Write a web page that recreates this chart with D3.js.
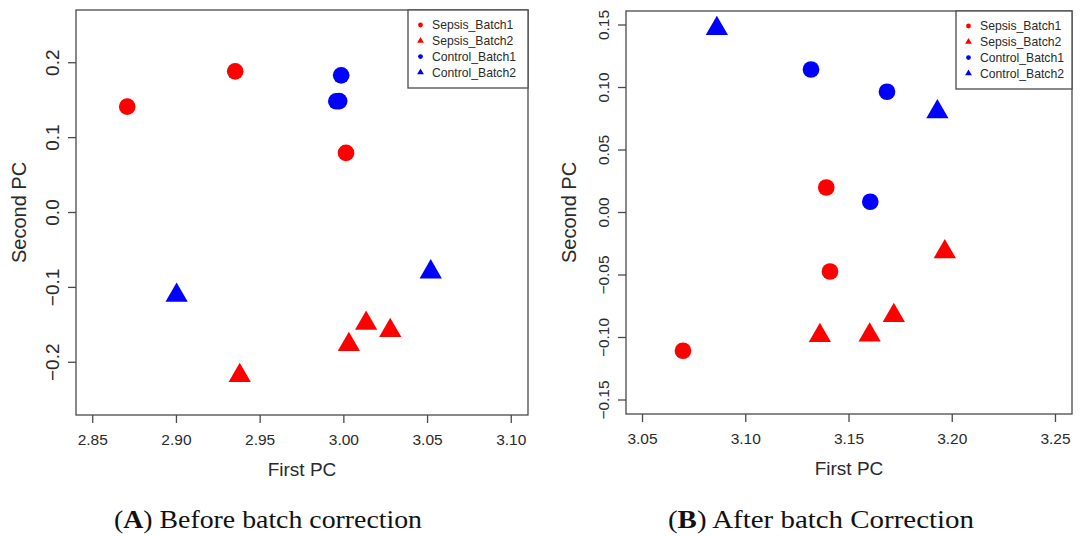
<!DOCTYPE html>
<html>
<head>
<meta charset="utf-8">
<script src="https://cdn.jsdelivr.net/npm/d3@7.9.0/dist/d3.min.js"></script>
<style>
  body { margin: 0; background: #fff; }
  svg { display: block; }
  .tick-label, .axis-title, .legend-text { font-family: "Liberation Sans", Arial, sans-serif; fill: #2a2a2a; }
  .caption { font-family: "Liberation Serif", "Times New Roman", serif; fill: #111; }
</style>
</head>
<body>
<svg id="chart" width="1080" height="536"></svg>
<script>
// groups shared by both panels
const groups = ['Sepsis_Batch1', 'Sepsis_Batch2', 'Control_Batch1', 'Control_Batch2'];
const groupColor = ['red', 'red', 'blue', 'blue'];
const groupShape = ['circle', 'triangle', 'circle', 'triangle'];

// panel A: before batch correction
const beforeX = [2.8706, 2.9351, 3.0013, 3.0030, 3.0133, 3.0277, 2.9378, 2.9984, 2.9955, 2.9972, 2.9001, 3.0519];
const beforeY = [0.1413, 0.1885, 0.0796, -0.1764, -0.1480, -0.1577, -0.2177, 0.1832, 0.1485, 0.1488, -0.1105, -0.0794];
const beforeGroup = [0, 0, 0, 1, 1, 1, 1, 2, 2, 2, 3, 3];
const beforeXTicks = ['2.85', '2.90', '2.95', '3.00', '3.05', '3.10'];
const beforeYTicks = ['0.2', '0.1', '0.0', '-0.1', '-0.2'];

// panel B: after batch correction
const afterX = [3.1390, 3.1408, 3.0696, 3.1964, 3.1717, 3.1359, 3.1600, 3.1316, 3.1684, 3.1603, 3.0860, 3.1928];
const afterY = [0.0200, -0.0472, -0.1106, -0.0314, -0.0824, -0.0984, -0.0980, 0.1144, 0.0966, 0.0086, 0.1472, 0.0806];
const afterGroup = [0, 0, 0, 1, 1, 1, 1, 2, 2, 2, 3, 3];
const afterXTicks = ['3.05', '3.10', '3.15', '3.20', '3.25'];
const afterYTicks = ['0.15', '0.10', '0.05', '0.00', '-0.05', '-0.10', '-0.15'];

const svg = d3.select('#chart');
const lineColor = '#4a4a4a';

// R style: pad the tick range by 4% on each side
function padded(ticks) {
  let lo = d3.min(ticks, (t) => +t);
  let hi = d3.max(ticks, (t) => +t);
  let pad = (hi - lo) * 0.04;
  return [lo - pad, hi + pad];
}

function drawPanel(opts) {
  let { xs, ys, gs, xTicks, yTicks, box, yDomain } = opts;
  let x = d3.scaleLinear().domain(padded(xTicks)).range([box.left, box.right]);
  let y = d3.scaleLinear().domain(yDomain).range([box.bottom, box.top]);
  let g = svg.append('g');

  g.append('rect')
    .attr('x', box.left).attr('y', box.top)
    .attr('width', box.right - box.left).attr('height', box.bottom - box.top)
    .attr('fill', 'none').attr('stroke', lineColor).attr('stroke-width', 1.3);

  // x axis ticks + labels
  let xAxis = g.append('g');
  xTicks.forEach((t) => {
    let px = x(+t);
    xAxis.append('line')
      .attr('x1', px).attr('x2', px).attr('y1', box.bottom).attr('y2', box.bottom + 8)
      .attr('stroke', lineColor).attr('stroke-width', 1.3);
    xAxis.append('text').attr('class', 'tick-label')
      .attr('x', px).attr('y', box.bottom + 30)
      .attr('text-anchor', 'middle').attr('font-size', 15.5)
      .text(t);
  });

  // y axis ticks + labels (rotated like R's default)
  let yAxis = g.append('g');
  yTicks.forEach((t) => {
    let py = y(+t);
    yAxis.append('line')
      .attr('x1', box.left - 8).attr('x2', box.left).attr('y1', py).attr('y2', py)
      .attr('stroke', lineColor).attr('stroke-width', 1.3);
    yAxis.append('text').attr('class', 'tick-label')
      .attr('transform', `translate(${box.left - 17},${py}) rotate(-90)`)
      .attr('text-anchor', 'middle').attr('font-size', opts.yTickSize)
      .text(t.replace('-', '\u2212'));
  });

  g.append('text').attr('class', 'axis-title')
    .attr('x', (box.left + box.right) / 2).attr('y', box.bottom + 61)
    .attr('text-anchor', 'middle').attr('font-size', 19)
    .text('First PC');
  g.append('text').attr('class', 'axis-title')
    .attr('transform', `translate(${box.left - 50.5},${(box.top + box.bottom) / 2}) rotate(-90)`)
    .attr('text-anchor', 'middle').attr('font-size', 20)
    .text('Second PC');

  // points
  let sym = d3.symbol();
  g.append('g').selectAll('path')
    .data(xs.map((v, i) => ({ x: v, y: ys[i], g: gs[i] })))
    .join('path')
    .attr('transform', (d) => `translate(${x(d.x)},${y(d.y)})`)
    .attr('d', (d) => groupShape[d.g] === 'circle'
      ? sym.type(d3.symbolCircle).size(218)()
      : sym.type(d3.symbolTriangle).size(215)())
    .attr('fill', (d) => groupColor[d.g]);

  // legend, topright
  let lw = opts.legendWidth;
  let legend = g.append('g');
  legend.append('rect')
    .attr('x', box.right - lw).attr('y', box.top)
    .attr('width', lw).attr('height', 78)
    .attr('fill', '#fff').attr('stroke', lineColor).attr('stroke-width', 1.3);
  groups.forEach((name, i) => {
    let ly = box.top + 15 + i * 15.8;
    legend.append('path')
      .attr('transform', `translate(${box.right - lw + 12.5},${ly})`)
      .attr('d', groupShape[i] === 'circle'
        ? d3.symbol().type(d3.symbolCircle).size(18)()
        : d3.symbol().type(d3.symbolTriangle).size(20)())
      .attr('fill', groupColor[i]);
    legend.append('text').attr('class', 'legend-text')
      .attr('x', box.right - lw + 24).attr('y', ly + 4.3)
      .attr('font-size', 12.2)
      .text(name);
  });

  // caption under the panel
  let cap = svg.append('text').attr('class', 'caption')
    .attr('x', opts.caption.x).attr('y', 527.5)
    .attr('font-size', 25)
    .attr('textLength', opts.caption.width).attr('lengthAdjust', 'spacingAndGlyphs');
  cap.append('tspan').text('(');
  cap.append('tspan').attr('font-weight', 'bold').text(opts.caption.letter);
  cap.append('tspan').text(') ' + opts.caption.text);
}

drawPanel({
  xs: beforeX, ys: beforeY, gs: beforeGroup,
  xTicks: beforeXTicks, yTicks: beforeYTicks,
  yDomain: [-0.2704, 0.2704],
  yTickSize: 19,
  box: { left: 76, right: 528, top: 10, bottom: 415 },
  legendWidth: 120,
  caption: { x: 114, width: 308, letter: 'A', text: 'Before batch correction' }
});

drawPanel({
  xs: afterX, ys: afterY, gs: afterGroup,
  xTicks: afterXTicks, yTicks: afterYTicks,
  yDomain: [-0.1612, 0.1612],
  yTickSize: 15.5,
  box: { left: 626, right: 1072, top: 11, bottom: 414 },
  legendWidth: 116,
  caption: { x: 668, width: 306, letter: 'B', text: 'After batch Correction' }
});
</script>
</body>
</html>
